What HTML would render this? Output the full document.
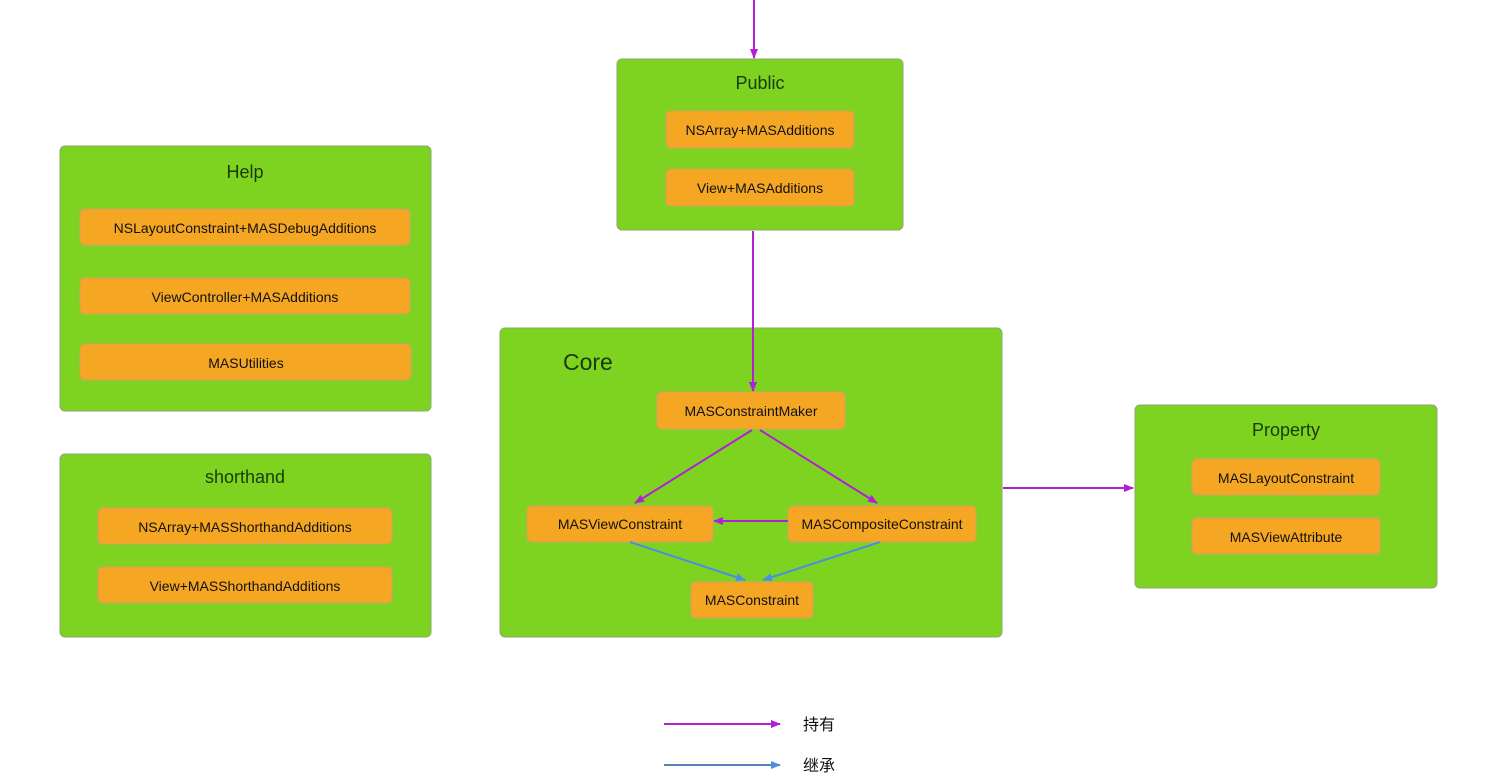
<!DOCTYPE html>
<html><head><meta charset="utf-8"><style>
body{margin:0;background:#fff;}
svg{display:block;}
text{font-family:"Liberation Sans","Noto Sans CJK SC",sans-serif;fill:#111;}
.g{fill:#7ed321;stroke:#8aa870;stroke-width:1;}
.o{fill:#f5a623;stroke:#d8a060;stroke-width:1;}
.t{font-size:14px;text-anchor:middle;dominant-baseline:central;}
.h{font-size:18px;text-anchor:middle;dominant-baseline:central;fill:#1a3a0a;}
.p{stroke:#b21fd6;stroke-width:2;fill:none;}
.b{stroke:#4a90e2;stroke-width:2;fill:none;}
</style></head><body>
<svg width="1500" height="777" viewBox="0 0 1500 777">
<defs>
<marker id="ap" markerWidth="10" markerHeight="8" refX="9" refY="4" orient="auto" markerUnits="userSpaceOnUse"><path d="M0,0 L10,4 L0,8 Z" fill="#b21fd6"/></marker>
<marker id="ab" markerWidth="10" markerHeight="8" refX="9" refY="4" orient="auto" markerUnits="userSpaceOnUse"><path d="M0,0 L10,4 L0,8 Z" fill="#4a90e2"/></marker>
</defs>
<!-- Public -->
<rect class="g" x="617" y="59" width="286" height="171" rx="5"/>
<text class="h" x="760" y="83">Public</text>
<rect class="o" x="666" y="111" width="188" height="37" rx="5"/><text class="t" x="760" y="130">NSArray+MASAdditions</text>
<rect class="o" x="666" y="169" width="188" height="37" rx="5"/><text class="t" x="760" y="188">View+MASAdditions</text>
<!-- Help -->
<rect class="g" x="60" y="146" width="371" height="265" rx="5"/>
<text class="h" x="245" y="172">Help</text>
<rect class="o" x="80" y="209" width="330" height="36" rx="5"/><text class="t" x="245" y="228">NSLayoutConstraint+MASDebugAdditions</text>
<rect class="o" x="80" y="278" width="330" height="36" rx="5"/><text class="t" x="245" y="297">ViewController+MASAdditions</text>
<rect class="o" x="80" y="344" width="331" height="36" rx="5"/><text class="t" x="246" y="363">MASUtilities</text>
<!-- shorthand -->
<rect class="g" x="60" y="454" width="371" height="183" rx="5"/>
<text class="h" x="245" y="477">shorthand</text>
<rect class="o" x="98" y="508" width="294" height="36" rx="5"/><text class="t" x="245" y="527">NSArray+MASShorthandAdditions</text>
<rect class="o" x="98" y="567" width="294" height="36" rx="5"/><text class="t" x="245" y="586">View+MASShorthandAdditions</text>
<!-- Core -->
<rect class="g" x="500" y="328" width="502" height="309" rx="5"/>
<text x="563" y="370" style="font-size:23px;fill:#1a3a0a">Core</text>
<rect class="o" x="657" y="392" width="188" height="37" rx="5"/><text class="t" x="751" y="411">MASConstraintMaker</text>
<rect class="o" x="527" y="506" width="186" height="36" rx="5"/><text class="t" x="620" y="524">MASViewConstraint</text>
<rect class="o" x="788" y="506" width="188" height="36" rx="5"/><text class="t" x="882" y="524">MASCompositeConstraint</text>
<rect class="o" x="691" y="582" width="122" height="36" rx="5"/><text class="t" x="752" y="600">MASConstraint</text>
<!-- Property -->
<rect class="g" x="1135" y="405" width="302" height="183" rx="5"/>
<text class="h" x="1286" y="430">Property</text>
<rect class="o" x="1192" y="459" width="188" height="36" rx="5"/><text class="t" x="1286" y="478">MASLayoutConstraint</text>
<rect class="o" x="1192" y="518" width="188" height="36" rx="5"/><text class="t" x="1286" y="537">MASViewAttribute</text>
<!-- arrows -->
<line class="p" x1="754" y1="0" x2="754" y2="58" marker-end="url(#ap)"/>
<line class="p" x1="753" y1="231" x2="753" y2="391" marker-end="url(#ap)"/>
<line class="p" x1="752" y1="430" x2="635" y2="503" marker-end="url(#ap)"/>
<line class="p" x1="760" y1="430" x2="877" y2="503" marker-end="url(#ap)"/>
<line class="p" x1="788" y1="521" x2="714" y2="521" marker-end="url(#ap)"/>
<line class="b" x1="630" y1="542" x2="745" y2="580" marker-end="url(#ab)"/>
<line class="b" x1="880" y1="542" x2="763" y2="580" marker-end="url(#ab)"/>
<line class="p" x1="1003" y1="488" x2="1133" y2="488" marker-end="url(#ap)"/>
<!-- legend -->
<line class="p" x1="664" y1="724" x2="780" y2="724" marker-end="url(#ap)"/>
<text x="803" y="730" style="font-size:16px">持有</text>
<line class="b" x1="664" y1="765" x2="780" y2="765" marker-end="url(#ab)" style="stroke:#5a80b8"/>
<text x="803" y="771" style="font-size:16px">继承</text>
</svg>
</body></html>
